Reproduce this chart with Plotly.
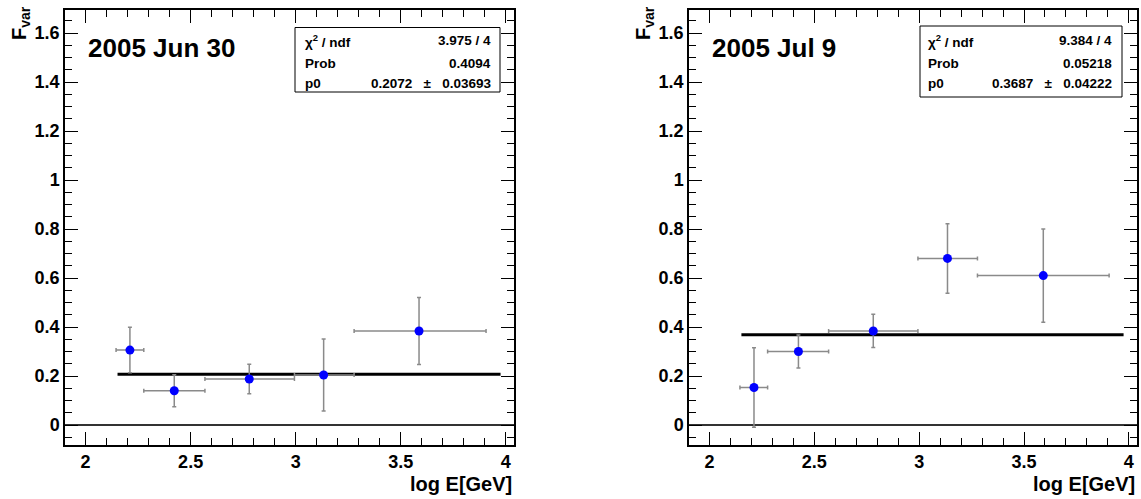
import plotly.graph_objects as go

W, H = 1141, 499

# ---- data ----
bin_lo = [2.145, 2.277, 2.568, 2.994, 3.278]
bin_hi = [2.277, 2.568, 2.994, 3.278, 3.906]

x_jun = [2.211, 2.422, 2.779, 3.133, 3.587]
y_jun = [0.306, 0.140, 0.188, 0.204, 0.384]
ey_jun = [0.093, 0.065, 0.060, 0.147, 0.137]
p0_jun = 0.2072

x_jul = [2.212, 2.424, 2.781, 3.135, 3.592]
y_jul = [0.153, 0.300, 0.384, 0.680, 0.610]
ey_jul = [0.162, 0.067, 0.068, 0.142, 0.190]
p0_jul = 0.3687

fit_range = [2.152, 3.975]

titles = ["2005 Jun 30", "2005 Jul 9"]
PM = "\u00a0\u00a0\u00a0±\u00a0\u00a0\u00a0"
stats_jun = [("χ<sup>2</sup> / ndf", "3.975 / 4"), ("Prob", "0.4094"), ("p0", "0.2072" + PM + "0.03693")]
stats_jul = [("χ<sup>2</sup> / ndf", "9.384 / 4"), ("Prob", "0.05218"), ("p0", "0.3687" + PM + "0.04222")]

FONT = "Liberation Sans, Arial, Helvetica, sans-serif"

def px(x):
    return x / W

def py(y):
    return 1 - y / H

fig = go.Figure()

panels = [
    dict(x=x_jun, y=y_jun, ey=ey_jun, p0=p0_jun, xa="x", ya="y",
         frame=(65, 514), box=(295, 500, 27.5, 92), lab_x=303, val_x=493),
    dict(x=x_jul, y=y_jul, ey=ey_jul, p0=p0_jul, xa="x2", ya="y2",
         frame=(689, 1137), box=(920, 1122, 26, 97), lab_x=926, val_x=1114),
]
stats = [stats_jun, stats_jul]

for i, p in enumerate(panels):
    xm = [xv - lo for xv, lo in zip(p["x"], bin_lo)]
    xp = [hi - xv for xv, hi in zip(p["x"], bin_hi)]
    # fit line
    fig.add_trace(go.Scatter(
        x=fit_range, y=[p["p0"], p["p0"]], mode="lines",
        line=dict(color="black", width=3), xaxis=p["xa"], yaxis=p["ya"],
        showlegend=False, hoverinfo="skip"))
    fig.add_trace(go.Scatter(
        x=p["x"], y=p["y"], mode="markers",
        marker=dict(color="#0000ff", size=9),
        error_x=dict(type="data", symmetric=False, array=xp, arrayminus=xm,
                     color="#8a8a8a", thickness=1.5, width=2),
        error_y=dict(type="data", array=p["ey"], color="#8a8a8a",
                     thickness=1.5, width=2),
        xaxis=p["xa"], yaxis=p["ya"], showlegend=False))

ydom = [py(445), py(10)]
axis_common = dict(
    showline=True, linecolor="black", linewidth=1.5, mirror="ticks",
    ticks="inside", ticklen=13, tickwidth=1, tickcolor="black",
    showgrid=False,
    tickfont=dict(family=FONT, size=18, color="black", weight="bold"),
)
xcommon = dict(axis_common, range=[1.902, 4.039], tick0=2, dtick=0.5,
               zeroline=False,
               minor=dict(ticks="inside", ticklen=7, dtick=0.1, tick0=2,
                          tickcolor="black", tickwidth=1, showgrid=False))
ycommon = dict(axis_common, range=[-0.0815, 1.694], tick0=0, dtick=0.2,
               zeroline=True, zerolinecolor="#333333", zerolinewidth=1.5,
               minor=dict(ticks="inside", ticklen=7, dtick=0.05, tick0=0,
                          tickcolor="black", tickwidth=1, showgrid=False))

fig.update_layout(
    xaxis=dict(xcommon, domain=[px(65), px(514)], anchor="y"),
    yaxis=dict(ycommon, domain=ydom, anchor="x"),
    xaxis2=dict(xcommon, domain=[px(689), px(1137)], anchor="y2"),
    yaxis2=dict(ycommon, domain=ydom, anchor="x2"),
)

shapes = []
annotations = []
for i, p in enumerate(panels):
    fl, fr = p["frame"]
    # title
    annotations.append(dict(
        xref="paper", yref="paper", x=px(fl + 21), y=py(48),
        xanchor="left", yanchor="middle", showarrow=False,
        text=titles[i], font=dict(family=FONT, size=26, color="black", weight="bold")))
    # x axis title
    annotations.append(dict(
        xref="paper", yref="paper", x=px(fr), y=py(484),
        xanchor="right", yanchor="middle", showarrow=False,
        text="log E[GeV]", font=dict(family=FONT, size=20, color="black", weight="bold")))
    # y axis title
    annotations.append(dict(
        xref="paper", yref="paper", x=px(fl - 45), y=py(4),
        xanchor="center", yanchor="top", showarrow=False, textangle=-90,
        text="F<sub>var</sub>", font=dict(family=FONT, size=20, color="black", weight="bold")))
    # stats box
    x0, x1, y0, y1 = p["box"]
    shapes.append(dict(type="rect", xref="paper", yref="paper",
                       x0=px(x0), x1=px(x1), y0=py(y1), y1=py(y0),
                       line=dict(color="black", width=1), fillcolor="white", layer="above"))
    rows_y = [41, 63, 84]
    for (lab, val), ry in zip(stats[i], rows_y):
        annotations.append(dict(
            xref="paper", yref="paper", x=px(p["lab_x"]), y=py(ry),
            xanchor="left", yanchor="middle", showarrow=False, text=lab,
            font=dict(family=FONT, size=13.5, color="black", weight="bold")))
        annotations.append(dict(
            xref="paper", yref="paper", x=px(p["val_x"]), y=py(ry),
            xanchor="right", yanchor="middle", showarrow=False, text=val,
            font=dict(family=FONT, size=13.5, color="black", weight="bold")))

fig.update_layout(
    width=W, height=H, margin=dict(l=0, r=0, t=0, b=0),
    paper_bgcolor="white", plot_bgcolor="white",
    shapes=shapes, annotations=annotations,
    font=dict(family=FONT, color="black"),
)

fig.write_html("out.html")
